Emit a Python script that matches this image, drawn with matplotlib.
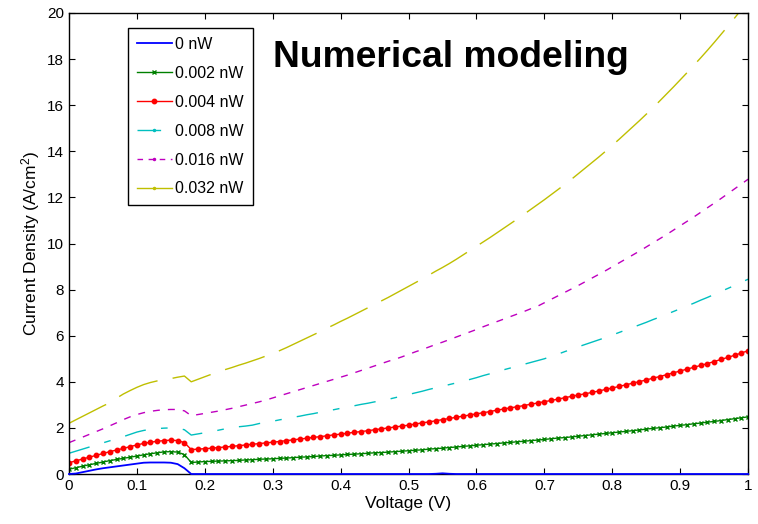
import matplotlib
matplotlib.use("Agg")
import matplotlib.pyplot as plt
from matplotlib.lines import Line2D

plt.rcParams['font.family'] = ['Liberation Sans', 'DejaVu Sans']
plt.rcParams['mathtext.default'] = 'regular'

# ---- data ----
voltage = [i / 100.0 for i in range(101)]

labels = ["0 nW", "0.002 nW", "0.004 nW", "0.008 nW", "0.016 nW", "0.032 nW"]

j_0nW = [0.00, 0.02, 0.08, 0.14, 0.20, 0.25, 0.29, 0.33, 0.37, 0.41,
         0.45, 0.49, 0.50, 0.50, 0.50, 0.49, 0.43, 0.25, 0.00, 0.00,
         0.00, 0.00, 0.00, 0.00, 0.00, 0.00, 0.00, 0.00, 0.00, 0.00,
         0.00, 0.00, 0.00, 0.00, 0.00, 0.00, 0.00, 0.00, 0.00, 0.00,
         0.00, 0.00, 0.00, 0.00, 0.00, 0.00, 0.00, 0.00, 0.00, 0.00,
         0.00, 0.00, 0.00, 0.00, 0.01, 0.03, 0.01, 0.00, 0.00, 0.00,
         0.00, 0.00, 0.00, 0.00, 0.00, 0.00, 0.00, 0.00, 0.00, 0.00,
         0.00, 0.00, 0.00, 0.00, 0.00, 0.00, 0.00, 0.00, 0.00, 0.00,
         0.00, 0.00, 0.00, 0.00, 0.00, 0.00, 0.00, 0.00, 0.00, 0.00,
         0.00, 0.00, 0.00, 0.00, 0.00, 0.00, 0.00, 0.00, 0.00, 0.00,
         0.00]

j_0002nW = [0.21, 0.27, 0.34, 0.40, 0.46, 0.52, 0.58, 0.63, 0.68, 0.73,
            0.78, 0.83, 0.88, 0.92, 0.96, 0.97, 0.95, 0.84, 0.50, 0.52,
            0.54, 0.55, 0.56, 0.57, 0.58, 0.59, 0.61, 0.62, 0.64, 0.65,
            0.66, 0.68, 0.69, 0.71, 0.73, 0.74, 0.76, 0.78, 0.80, 0.81,
            0.83, 0.85, 0.86, 0.88, 0.90, 0.92, 0.93, 0.95, 0.97, 0.99,
            1.01, 1.03, 1.05, 1.08, 1.10, 1.12, 1.15, 1.17, 1.20, 1.22,
            1.25, 1.27, 1.30, 1.32, 1.35, 1.37, 1.40, 1.42, 1.45, 1.47,
            1.50, 1.53, 1.56, 1.58, 1.61, 1.64, 1.67, 1.70, 1.73, 1.76,
            1.79, 1.82, 1.85, 1.88, 1.91, 1.95, 1.98, 2.01, 2.04, 2.08,
            2.11, 2.14, 2.18, 2.21, 2.25, 2.28, 2.32, 2.36, 2.40, 2.44,
            2.48]

j_0004nW = [0.49, 0.57, 0.65, 0.73, 0.81, 0.89, 0.97, 1.04, 1.11, 1.19,
            1.26, 1.33, 1.38, 1.42, 1.45, 1.47, 1.45, 1.36, 1.06, 1.08,
            1.10, 1.12, 1.15, 1.17, 1.20, 1.23, 1.26, 1.29, 1.32, 1.35,
            1.38, 1.41, 1.45, 1.48, 1.52, 1.55, 1.59, 1.62, 1.66, 1.70,
            1.73, 1.77, 1.81, 1.84, 1.88, 1.92, 1.96, 2.00, 2.04, 2.08,
            2.12, 2.17, 2.22, 2.26, 2.31, 2.36, 2.41, 2.46, 2.51, 2.56,
            2.61, 2.66, 2.71, 2.77, 2.82, 2.87, 2.92, 2.97, 3.03, 3.08,
            3.14, 3.19, 3.25, 3.31, 3.37, 3.43, 3.48, 3.54, 3.60, 3.67,
            3.73, 3.80, 3.87, 3.94, 4.01, 4.08, 4.16, 4.23, 4.31, 4.39,
            4.47, 4.55, 4.63, 4.71, 4.79, 4.88, 4.97, 5.06, 5.15, 5.25,
            5.35]

j_0008nW = [0.90, 0.99, 1.08, 1.17, 1.26, 1.35, 1.44, 1.53, 1.62, 1.72,
            1.82, 1.89, 1.94, 1.97, 1.99, 2.00, 1.99, 1.92, 1.69, 1.74,
            1.79, 1.84, 1.90, 1.96, 2.01, 2.05, 2.08, 2.12, 2.19, 2.24,
            2.29, 2.35, 2.40, 2.46, 2.51, 2.57, 2.62, 2.68, 2.74, 2.79,
            2.85, 2.91, 2.96, 3.02, 3.07, 3.13, 3.18, 3.24, 3.31, 3.38,
            3.45, 3.52, 3.59, 3.67, 3.74, 3.81, 3.88, 3.95, 4.03, 4.10,
            4.18, 4.27, 4.35, 4.44, 4.52, 4.60, 4.68, 4.76, 4.84, 4.92,
            5.00, 5.10, 5.20, 5.31, 5.41, 5.52, 5.62, 5.72, 5.82, 5.92,
            6.03, 6.14, 6.25, 6.36, 6.47, 6.58, 6.70, 6.81, 6.93, 7.05,
            7.17, 7.29, 7.41, 7.54, 7.66, 7.79, 7.92, 8.05, 8.18, 8.32,
            8.45]

j_0016nW = [1.36, 1.48, 1.60, 1.72, 1.84, 1.96, 2.09, 2.22, 2.36, 2.48,
            2.58, 2.66, 2.72, 2.76, 2.79, 2.80, 2.80, 2.74, 2.53, 2.58,
            2.63, 2.68, 2.73, 2.79, 2.85, 2.92, 2.99, 3.06, 3.13, 3.21,
            3.30, 3.39, 3.48, 3.57, 3.66, 3.75, 3.84, 3.93, 4.02, 4.11,
            4.20, 4.29, 4.39, 4.49, 4.59, 4.69, 4.79, 4.89, 4.98, 5.08,
            5.19, 5.30, 5.40, 5.51, 5.62, 5.72, 5.83, 5.94, 6.05, 6.16,
            6.27, 6.39, 6.50, 6.61, 6.72, 6.83, 6.94, 7.05, 7.17, 7.28,
            7.43, 7.58, 7.73, 7.88, 8.03, 8.18, 8.34, 8.50, 8.66, 8.82,
            8.99, 9.16, 9.33, 9.50, 9.67, 9.85, 10.03, 10.21, 10.39, 10.58,
            10.77, 10.96, 11.15, 11.35, 11.55, 11.75, 11.95, 12.16, 12.37, 12.58,
            12.79]

j_0032nW = [2.20, 2.35, 2.50, 2.65, 2.80, 2.95, 3.09, 3.29, 3.47, 3.62,
            3.76, 3.88, 3.97, 4.04, 4.09, 4.14, 4.20, 4.25, 4.00, 4.11,
            4.22, 4.33, 4.43, 4.53, 4.62, 4.72, 4.81, 4.91, 5.01, 5.12,
            5.23, 5.35, 5.48, 5.62, 5.76, 5.90, 6.04, 6.18, 6.33, 6.47,
            6.62, 6.76, 6.91, 7.06, 7.21, 7.36, 7.51, 7.66, 7.82, 7.98,
            8.14, 8.30, 8.46, 8.63, 8.80, 8.96, 9.13, 9.31, 9.50, 9.69,
            9.88, 10.07, 10.26, 10.46, 10.66, 10.86, 11.06, 11.27, 11.48, 11.69,
            11.90, 12.12, 12.34, 12.56, 12.79, 13.03, 13.27, 13.51, 13.75, 14.00,
            14.26, 14.52, 14.79, 15.06, 15.33, 15.61, 15.89, 16.19, 16.49, 16.79,
            17.10, 17.41, 17.73, 18.05, 18.38, 18.72, 19.07, 19.42, 19.78, 20.15,
            20.52]

xticks = [0, 0.1, 0.2, 0.3, 0.4, 0.5, 0.6, 0.7, 0.8, 0.9, 1]
xticklabels = ["0", "0.1", "0.2", "0.3", "0.4", "0.5", "0.6", "0.7", "0.8", "0.9", "1"]
yticks = [0, 2, 4, 6, 8, 10, 12, 14, 16, 18, 20]

# matlab-ish colours
BLUE = (0, 0, 1)
GREEN = (0, 0.5, 0)
RED = (1, 0, 0)
CYAN = (0, 0.75, 0.75)
MAGENTA = (0.75, 0, 0.75)
YELLOW = (0.75, 0.75, 0)

fig = plt.figure(figsize=(7.58, 5.24), dpi=100)
ax = fig.add_axes([0.091, 0.0954, 0.896, 0.8798])

l0, = ax.plot(voltage, j_0nW, color=BLUE, lw=1.3, clip_on=False, zorder=3)
l1, = ax.plot(voltage, j_0002nW, color=GREEN, lw=1.0, marker='x', ms=3.2, mew=1.0)
l2, = ax.plot(voltage, j_0004nW, color=RED, lw=1.0, marker='o', ms=3.2, mfc=RED, mec=RED)
l3, = ax.plot(voltage, j_0008nW, color=CYAN, lw=1.0, dashes=(15.5, 11, 4.8, 11))
l4, = ax.plot(voltage, j_0016nW, color=MAGENTA, lw=1.0, dashes=(5, 5.8))
l5, = ax.plot(voltage, j_0032nW, color=YELLOW, lw=1.0, dashes=(30, 11))

# legend handles for the dashed ones carry a small dot like matlab
h3 = Line2D([], [], color=CYAN, lw=1.0, dashes=(17, 30), marker='.', ms=3)
h4 = Line2D([], [], color=MAGENTA, lw=1.0, dashes=(4, 4), marker='.', ms=3)
h5 = Line2D([], [], color=YELLOW, lw=1.0, marker='.', ms=3)

leg = ax.legend([l0, l1, l2, h3, h4, h5], labels, loc='upper left',
                bbox_to_anchor=(0.087, 0.967), borderaxespad=0, fontsize=11.5,
                frameon=True, fancybox=False, framealpha=1, edgecolor='black',
                handlelength=2.2, handletextpad=0.2, labelspacing=0.87,
                borderpad=0.55)
leg.get_frame().set_linewidth(1.0)

ax.text(0.30, 0.883, "Numerical modeling", transform=ax.transAxes,
        fontsize=26.8, fontweight='bold', ha='left', va='baseline')

ax.set_xlim(0, 1)
ax.set_ylim(0, 20)
ax.set_xticks(xticks)
ax.set_xticklabels(xticklabels)
ax.set_yticks(yticks)
ax.tick_params(direction='in', top=True, right=True, length=4, width=0.8,
               labelsize=11)
for s in ax.spines.values():
    s.set_linewidth(1.0)

ax.set_xlabel("Voltage (V)", fontsize=12.5, labelpad=2)
ax.set_ylabel("Current Density (A/cm$^2$)", fontsize=12.5, labelpad=4)

fig.savefig("out.png", dpi=100)
